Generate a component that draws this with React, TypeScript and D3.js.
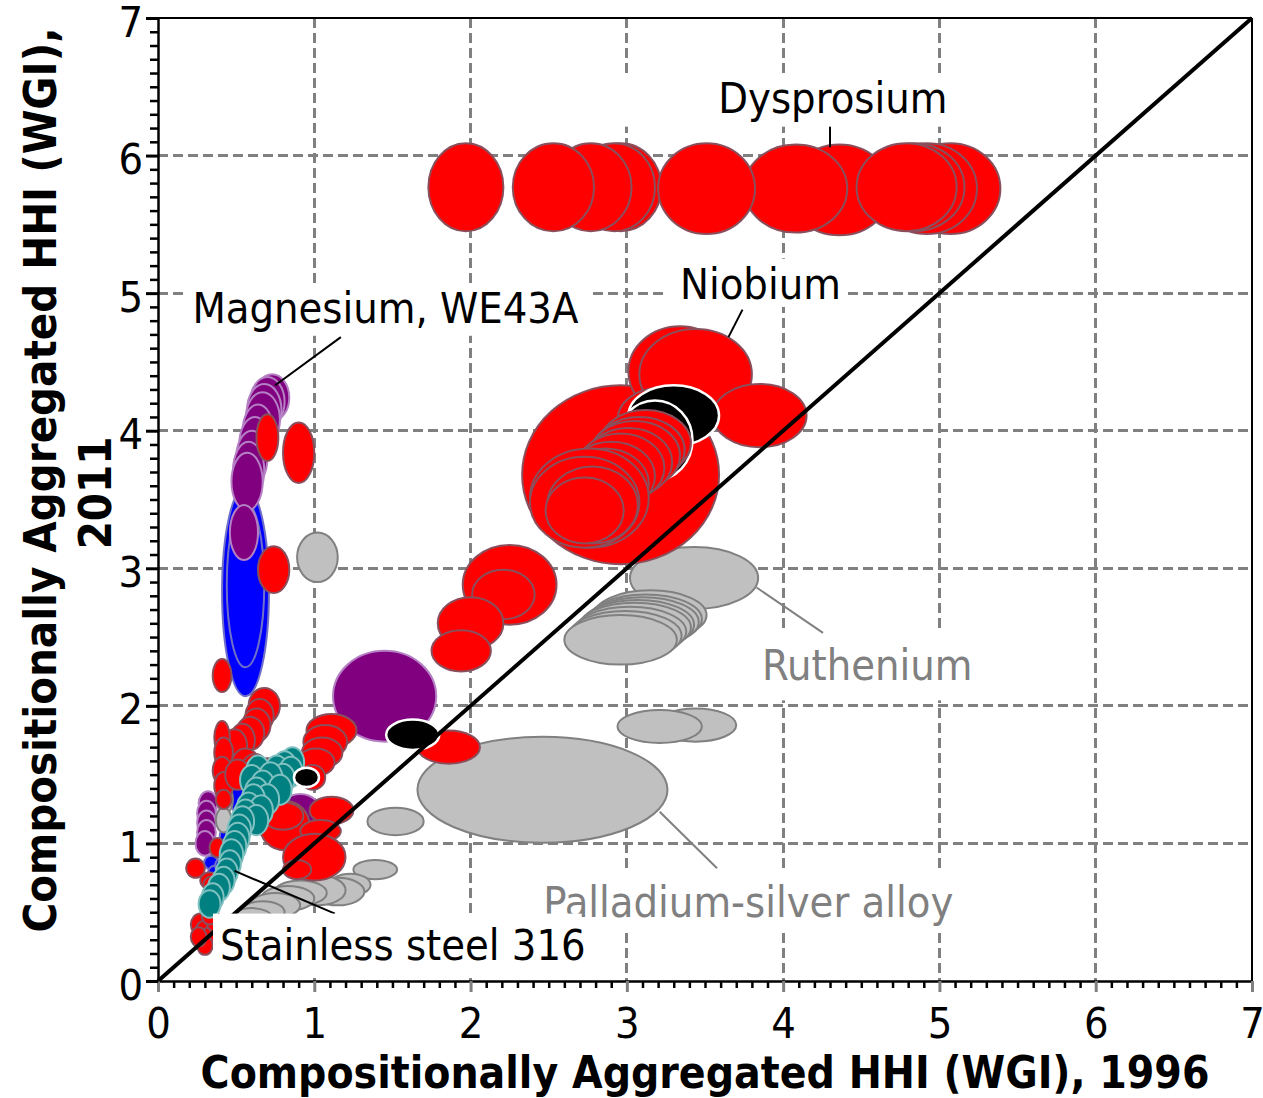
import React, { useEffect, useRef } from 'react'
import * as d3 from 'd3'

const FONT = "'DejaVu Sans Condensed', 'DejaVu Sans', sans-serif"

const axisTicks = [0, 1, 2, 3, 4, 5, 6, 7]
const gridTicks = [1, 2, 3, 4, 5, 6]

// each bubble: [HHI 1996, HHI 2011, half range 1996, half range 2011]
type Bubble = [number, number, number, number]

const dysprosium: Bubble[] = [
  [2.96, 5.77, 0.26, 0.32], [2.92, 5.77, 0.26, 0.32], [2.77, 5.77, 0.26, 0.32], [2.53, 5.77, 0.26, 0.32],
  [1.97, 5.77, 0.24, 0.32],
  [5.07, 5.76, 0.32, 0.33], [4.92, 5.76, 0.32, 0.33], [4.84, 5.77, 0.32, 0.32], [4.36, 5.75, 0.33, 0.33],
  [4.79, 5.77, 0.32, 0.32], [4.08, 5.76, 0.33, 0.32], [3.51, 5.76, 0.31, 0.33],
]

const niobium: Bubble[] = [
  [2.96, 3.68, 0.63, 0.65], [3.34, 4.43, 0.33, 0.33], [3.44, 4.41, 0.36, 0.33],
  [3.85, 4.11, 0.30, 0.23], [3.21, 4.08, 0.27, 0.23],
]

const niobiumAlloys: Bubble[] = [
  [3.12, 3.91, 0.29, 0.24], [3.08, 3.86, 0.29, 0.24], [3.05, 3.82, 0.29, 0.25], [3.01, 3.77, 0.28, 0.25],
  [2.96, 3.73, 0.28, 0.25], [2.90, 3.67, 0.28, 0.25], [2.86, 3.62, 0.28, 0.25], [2.82, 3.57, 0.28, 0.26],
  [2.76, 3.51, 0.38, 0.36], [2.73, 3.48, 0.35, 0.33], [2.78, 3.46, 0.29, 0.28], [2.73, 3.42, 0.25, 0.24],
]

const redOther: Bubble[] = [
  [2.25, 2.88, 0.30, 0.29], [2.21, 2.81, 0.20, 0.18], [2.00, 2.60, 0.21, 0.19], [1.94, 2.40, 0.19, 0.15],
  [1.86, 1.70, 0.20, 0.12],
  [0.70, 3.95, 0.07, 0.17], [0.90, 3.84, 0.10, 0.22], [0.74, 2.99, 0.10, 0.17], [0.41, 2.22, 0.06, 0.12],
  [0.68, 2.00, 0.10, 0.13], [0.65, 1.93, 0.09, 0.12], [0.63, 1.86, 0.09, 0.12], [0.59, 1.80, 0.09, 0.12],
  [0.54, 1.75, 0.08, 0.12], [0.49, 1.71, 0.08, 0.12], [0.41, 1.77, 0.05, 0.12], [0.42, 1.66, 0.06, 0.11],
  [0.41, 1.53, 0.06, 0.10], [0.42, 1.42, 0.06, 0.10], [0.42, 1.32, 0.05, 0.07],
  [0.56, 1.57, 0.09, 0.12], [0.62, 1.53, 0.09, 0.12], [0.70, 1.50, 0.10, 0.12], [0.78, 1.46, 0.09, 0.11],
  [0.51, 1.50, 0.08, 0.11],
  [1.11, 1.82, 0.16, 0.12], [1.07, 1.74, 0.14, 0.12], [1.05, 1.66, 0.13, 0.11], [1.01, 1.59, 0.12, 0.10],
  [0.99, 1.48, 0.08, 0.09],
  [0.81, 1.13, 0.16, 0.18], [0.80, 1.20, 0.13, 0.10], [1.11, 1.24, 0.14, 0.10], [1.04, 1.09, 0.13, 0.08],
  [1.00, 0.90, 0.20, 0.17], [0.89, 0.81, 0.09, 0.07],
  [0.24, 0.82, 0.06, 0.07], [0.33, 0.73, 0.06, 0.06], [0.34, 0.70, 0.05, 0.06], [0.38, 0.97, 0.05, 0.07],
  [0.27, 0.41, 0.06, 0.08], [0.30, 0.36, 0.06, 0.08], [0.33, 0.31, 0.06, 0.08], [0.36, 0.43, 0.05, 0.07],
  [0.30, 0.26, 0.05, 0.07], [0.26, 0.32, 0.05, 0.07], [0.33, 0.48, 0.05, 0.07],
]

const magnesium: Bubble[] = [
  [0.73, 4.24, 0.11, 0.17], [0.70, 4.21, 0.11, 0.18], [0.68, 4.15, 0.11, 0.19], [0.67, 4.08, 0.11, 0.20],
  [0.64, 3.99, 0.10, 0.20], [0.62, 3.90, 0.10, 0.20], [0.60, 3.80, 0.10, 0.20], [0.58, 3.71, 0.10, 0.21],
  [0.57, 3.63, 0.10, 0.21], [0.55, 3.26, 0.09, 0.20],
]

const purpleOther: Bubble[] = [
  [1.45, 2.07, 0.33, 0.33],
  [0.32, 1.29, 0.06, 0.09], [0.31, 1.22, 0.06, 0.09], [0.31, 1.15, 0.06, 0.09], [0.31, 1.08, 0.06, 0.09],
  [0.30, 1.00, 0.06, 0.09], [0.91, 1.21, 0.14, 0.15],
]

const blueBubbles: Bubble[] = [
  [0.56, 2.83, 0.15, 0.76], [0.56, 2.88, 0.12, 0.60],
  [0.52, 1.32, 0.06, 0.10], [0.44, 1.05, 0.045, 0.07],
  [0.34, 0.86, 0.045, 0.05], [0.37, 0.79, 0.05, 0.05], [0.41, 0.84, 0.045, 0.05],
]

const stainless: Bubble[] = [
  [0.86, 1.59, 0.075, 0.11], [0.81, 1.56, 0.075, 0.11], [0.76, 1.53, 0.075, 0.11], [0.64, 1.53, 0.075, 0.11],
  [0.85, 1.52, 0.075, 0.11], [0.80, 1.47, 0.075, 0.11], [0.74, 1.43, 0.075, 0.11],
  [0.72, 1.48, 0.075, 0.11], [0.60, 1.46, 0.075, 0.11], [0.67, 1.42, 0.075, 0.11], [0.78, 1.39, 0.075, 0.11],
  [0.63, 1.37, 0.075, 0.11], [0.70, 1.32, 0.075, 0.11], [0.61, 1.32, 0.075, 0.11], [0.58, 1.26, 0.075, 0.11],
  [0.66, 1.24, 0.075, 0.11], [0.56, 1.21, 0.075, 0.11], [0.63, 1.17, 0.075, 0.11], [0.54, 1.16, 0.075, 0.11],
  [0.52, 1.10, 0.075, 0.11], [0.51, 1.04, 0.075, 0.11], [0.49, 0.98, 0.075, 0.11], [0.47, 0.92, 0.075, 0.11],
  [0.46, 0.85, 0.07, 0.1], [0.44, 0.79, 0.07, 0.1], [0.42, 0.73, 0.07, 0.1], [0.39, 0.68, 0.07, 0.1],
  [0.35, 0.61, 0.07, 0.1], [0.33, 0.56, 0.07, 0.1],
]

const grayBubbles: Bubble[] = [
  [3.43, 2.93, 0.41, 0.225],
  [3.15, 2.66, 0.36, 0.18], [3.12, 2.63, 0.36, 0.18], [3.10, 2.61, 0.36, 0.18], [3.07, 2.59, 0.36, 0.18],
  [3.05, 2.57, 0.36, 0.18], [3.02, 2.54, 0.36, 0.18], [2.99, 2.51, 0.36, 0.18], [2.96, 2.48, 0.36, 0.18],
  [3.44, 1.86, 0.26, 0.12], [3.21, 1.85, 0.27, 0.12],
  [2.46, 1.39, 0.80, 0.385], [1.52, 1.16, 0.18, 0.10], [1.02, 3.08, 0.13, 0.18],
  [1.39, 0.81, 0.14, 0.07], [1.23, 0.70, 0.13, 0.08], [1.15, 0.65, 0.17, 0.10], [1.02, 0.66, 0.18, 0.11],
  [0.91, 0.64, 0.17, 0.09], [0.83, 0.60, 0.17, 0.09], [0.75, 0.55, 0.16, 0.09], [0.67, 0.50, 0.14, 0.08],
  [0.60, 0.46, 0.13, 0.07], [0.43, 1.32, 0.05, 0.10], [0.42, 1.17, 0.05, 0.09],
]

const blackBubbles: Bubble[] = [
  [1.63, 1.79, 0.17, 0.11], [0.95, 1.48, 0.08, 0.07],
  [3.30, 4.11, 0.29, 0.22], [3.18, 3.93, 0.24, 0.29],
]

const styles = {
  red: { fill: '#ff0000', stroke: '#8a4f5c' },
  purple: { fill: '#800080', stroke: '#b580c4' },
  blue: { fill: '#0000ff', stroke: '#7070c8' },
  teal: { fill: '#008080', stroke: '#80c0c0' },
  gray: { fill: '#c0c0c0', stroke: '#808080' },
  black: { fill: '#000000', stroke: '#ffffff' },
}

const layers: { key: keyof typeof styles; data: Bubble[] }[] = [
  { key: 'blue', data: blueBubbles },
  { key: 'purple', data: magnesium },
  { key: 'purple', data: purpleOther },
  { key: 'gray', data: grayBubbles },
  { key: 'red', data: dysprosium },
  { key: 'red', data: niobium },
  { key: 'red', data: redOther },
  { key: 'teal', data: stainless },
  { key: 'black', data: blackBubbles },
  { key: 'red', data: niobiumAlloys },
]

// annotation text with its white box and leader, all in data units
const labels = [
  { text: 'Dysprosium', x: 3.585, y: 6.31, color: '#000', box: [2.8, 6.21, 5.6, 6.6], leader: [4.3, 6.21, 4.3, 6.06] },
  { text: 'Niobium', x: 3.34, y: 4.96, color: '#000', box: [3.24, 4.9, 4.4, 5.25], leader: [3.74, 4.88, 3.65, 4.68] },
  { text: 'Magnesium, WE43A', x: 0.22, y: 4.78, color: '#000', box: [0.17, 4.69, 2.76, 5.07], leader: [1.17, 4.68, 0.75, 4.33] },
  { text: 'Ruthenium', x: 3.865, y: 2.19, color: '#808080', box: [3.82, 2.04, 5.25, 2.53], leader: [3.83, 2.86, 4.255, 2.53] },
  { text: 'Palladium-silver alloy', x: 2.465, y: 0.465, color: '#808080', box: [2.43, 0.37, 5.12, 0.8], leader: [3.21, 1.23, 3.577, 0.82] },
  { text: 'Stainless steel 316', x: 0.397, y: 0.15, color: '#000', box: [0.352, 0.04, 2.71, 0.49], leader: [0.49, 0.8, 1.132, 0.49] },
]

const App = () => {
  const xMinorRef = useRef<SVGGElement>(null)
  const xMajorRef = useRef<SVGGElement>(null)
  const yMinorRef = useRef<SVGGElement>(null)
  const yMajorRef = useRef<SVGGElement>(null)

  const width = 1263
  const height = 1098
  const x = d3.scaleLinear().domain([0, 7]).range([158, 1252])
  const y = d3.scaleLinear().domain([0, 7]).range([981, 18])
  const minorTicks = d3.range(1, 70).filter((i) => i % 10 !== 0).map((i) => i / 10)

  useEffect(() => {
    const xMinor = d3.select(xMinorRef.current)
    xMinor
      .attr('transform', `translate(0, ${y(0)})`)
      .call(d3.axisBottom(x).tickValues(minorTicks).tickSize(7).tickSizeOuter(0).tickFormat(() => ''))
    xMinor.select('.domain').remove()
    xMinor.selectAll('line').attr('stroke', '#000').attr('stroke-width', 2.5)

    const xMajor = d3.select(xMajorRef.current)
    xMajor
      .attr('transform', `translate(0, ${y(0)})`)
      .call(
        d3.axisBottom(x).tickValues(axisTicks).tickSize(11).tickSizeOuter(0).tickPadding(15)
          .tickFormat(d3.format('d'))
      )
    xMajor.select('.domain').attr('stroke', '#000').attr('stroke-width', 2.5)
    xMajor.selectAll('line').attr('stroke', '#808080').attr('stroke-width', 3)
    xMajor.selectAll('text').attr('font-size', 43).attr('font-family', FONT).attr('fill', '#000')

    const yMinor = d3.select(yMinorRef.current)
    yMinor
      .attr('transform', `translate(${x(0)}, 0)`)
      .call(d3.axisLeft(y).tickValues(minorTicks).tickSize(8).tickSizeOuter(0).tickFormat(() => ''))
    yMinor.select('.domain').remove()
    yMinor.selectAll('line').attr('stroke', '#000').attr('stroke-width', 2.5)

    const yMajor = d3.select(yMajorRef.current)
    yMajor
      .attr('transform', `translate(${x(0)}, 0)`)
      .call(
        d3.axisLeft(y).tickValues(axisTicks).tickSize(12).tickSizeOuter(0).tickPadding(3)
          .tickFormat(d3.format('d'))
      )
    yMajor.select('.domain').attr('stroke', '#000').attr('stroke-width', 2.5)
    yMajor.selectAll('line').attr('stroke', '#000').attr('stroke-width', 3)
    yMajor
      .selectAll('text')
      .attr('font-size', 43)
      .attr('font-family', FONT)
      .attr('fill', '#000')
      .attr('dy', '0.42em')
  }, [x, y, minorTicks])

  return (
    <svg
      width={width}
      height={height}
      style={{ position: 'absolute', left: 0, top: 0, background: '#fff' }}
      fontFamily={FONT}
    >
      <rect x={0} y={0} width={width} height={height} fill='#fff' />
      <g className='grid' stroke='#808080' strokeWidth={3} strokeDasharray='10,5' shapeRendering='crispEdges'>
        {gridTicks.map((t) => (
          <line key={'gx' + t} x1={x(t)} x2={x(t)} y1={y(7)} y2={y(0)} />
        ))}
        {gridTicks.map((t) => (
          <line key={'gy' + t} x1={x(0)} x2={x(7)} y1={y(t)} y2={y(t)} />
        ))}
      </g>
      <g className='labelBoxes'>
        {labels.map((l) => (
          <rect key={l.text} x={x(l.box[0])} y={y(l.box[3])} width={x(l.box[2]) - x(l.box[0])}
            height={y(l.box[1]) - y(l.box[3])} fill='#fff' />
        ))}
      </g>
      <g className='bubbles'>
        {layers.map((layer, li) => (
          <g key={li} fill={styles[layer.key].fill} stroke={styles[layer.key].stroke}
            strokeWidth={layer.key === 'black' ? 2.5 : 2}>
            {layer.data.map((d, i) => (
              <ellipse
                key={i}
                cx={x(d[0])}
                cy={y(d[1])}
                rx={x(d[2]) - x(0)}
                ry={y(0) - y(d[3])}
              />
            ))}
          </g>
        ))}
      </g>
      <line x1={x(0)} y1={y(0)} x2={x(7)} y2={y(7)} stroke='#000' strokeWidth={4} />
      <line x1={x(0)} y1={y(7)} x2={x(7)} y2={y(7)} stroke='#000' strokeWidth={2} />
      <line x1={x(7)} y1={y(7)} x2={x(7)} y2={y(0)} stroke='#000' strokeWidth={2} />
      <g className='labels'>
        {labels.map((l) => (
          <g key={l.text}>
            <line x1={x(l.leader[0])} y1={y(l.leader[1])} x2={x(l.leader[2])} y2={y(l.leader[3])}
              stroke={l.color} strokeWidth={2} />
            {l.text === 'Stainless steel 316' && (
              <rect x={x(l.box[0])} y={y(l.box[3])} width={x(l.box[2]) - x(l.box[0])}
                height={y(l.box[1]) - y(l.box[3])} fill='#fff' />
            )}
            <text x={x(l.x)} y={y(l.y)} fontSize={43} fill={l.color}>{l.text}</text>
          </g>
        ))}
      </g>
      <g ref={xMinorRef} />
      <g ref={xMajorRef} />
      <g ref={yMinorRef} />
      <g ref={yMajorRef} />
      <text x={(x(0) + x(7)) / 2} y={1088} textAnchor='middle' fontSize={44} fontWeight='bold'>
        Compositionally Aggregated HHI (WGI), 1996
      </text>
      <text transform='translate(56, 480) rotate(-90)' textAnchor='middle' fontSize={45} fontWeight='bold'>
        Compositionally Aggregated HHI (WGI),
      </text>
      <text transform='translate(111, 493) rotate(-90)' textAnchor='middle' fontSize={45} fontWeight='bold'>
        2011
      </text>
    </svg>
  )
}

export default App
